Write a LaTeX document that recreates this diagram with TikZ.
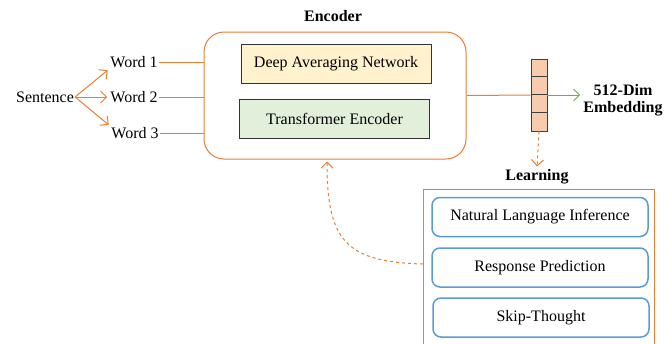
\documentclass[tikz,border=0pt]{standalone}
\usepackage{fontspec}
\setmainfont{Liberation Serif}
\usetikzlibrary{arrows.meta}

\definecolor{orng}{HTML}{ED7D31}
\definecolor{grn}{HTML}{70AD47}
\definecolor{blu}{HTML}{5B9BD5}
\definecolor{danfill}{HTML}{FFF2CC}
\definecolor{trffill}{HTML}{E2EFDA}
\definecolor{vecfill}{HTML}{F8CBAD}

\begin{document}
\begin{tikzpicture}[x=1pt, y=1pt, font=\fontsize{16}{18}\selectfont,
                    open tip/.style={-{Straight Barb[length=6pt,width=12pt]}, shorten >=2pt},
                    word node/.style={inner sep=1pt},
                    title node/.style={font=\fontsize{16}{17}\selectfont\bfseries, align=center, inner sep=1pt},
                    inner box/.style={draw=black!80, line width=0.8pt, minimum width=190, minimum height=39},
                    task box/.style={draw=blu, line width=1.5pt, rounded corners=8pt, minimum width=216, minimum height=39}]

  \useasboundingbox (0,0) rectangle (672,-343);

  % input side
  \node[word node] (sent) at (45,-97) {Sentence};
  \node[word node] (w1) at (134,-62) {Word 1};
  \node[word node] (w2) at (134,-97) {Word 2};
  \node[word node] (w3) at (135,-133) {Word 3};

  % encoder
  \node[draw=orng, line width=1pt, rounded corners=20pt, minimum width=262, minimum height=127] (enc) at (335,-95.5) {};
  \node[title node] (enclabel) at (333,-16) {Encoder};
  \node[inner box, fill=danfill] (dan) at (336,-63.5) {Deep Averaging Network};
  \node[inner box, fill=trffill] (trf) at (334.5,-119) {Transformer Encoder};

  % output vector
  \node[draw=black!75, fill=vecfill, line width=0.8pt, minimum width=16, minimum height=72, inner sep=0pt] (vec) at (539,-95) {};
  \foreach \i in {1,2,3}
    \draw[black!75, line width=0.8pt] ([yshift=-18*\i]vec.north west) -- ([yshift=-18*\i]vec.north east);
  \node[title node] (emb) at (623,-100) {512-Dim\\Embedding};

  % learning
  \node[title node] (learnlabel) at (537,-177) {Learning};
  \node[draw=orng, line width=1pt, minimum width=231, minimum height=170, anchor=north west, inner sep=0pt] (learn) at (423,-189) {};
  \node[task box] (nli) at (540,-217) {Natural Language Inference};
  \node[task box] (rp) at (540,-267.5) {Response Prediction};
  \node[task box] (st) at (541,-317.5) {Skip-Thought};

  \path[draw=orng, line width=1pt]
    (sent.east) edge[open tip] (w1.south west)
                edge[open tip] (w2.west)
                edge[open tip] (w3.north west)
    (w1.east) edge (enc.west |- w1)
    (w2.east) edge (enc.west |- w2)
    (w3.east) edge (enc.west |- w3)
    (enc.east) edge (vec.west);

  \draw[grn, line width=1pt, open tip] (vec.east) -- (emb.west |- vec.east);
  \draw[orng, line width=1pt, dashed, open tip] (vec.south) -- (learnlabel.north);
  \draw[orng, line width=1pt, dashed, open tip]
    ([yshift=-75]learn.north west) .. controls (345,-262) and (327,-240) .. ([xshift=-8]enc.south);
\end{tikzpicture}
\end{document}
